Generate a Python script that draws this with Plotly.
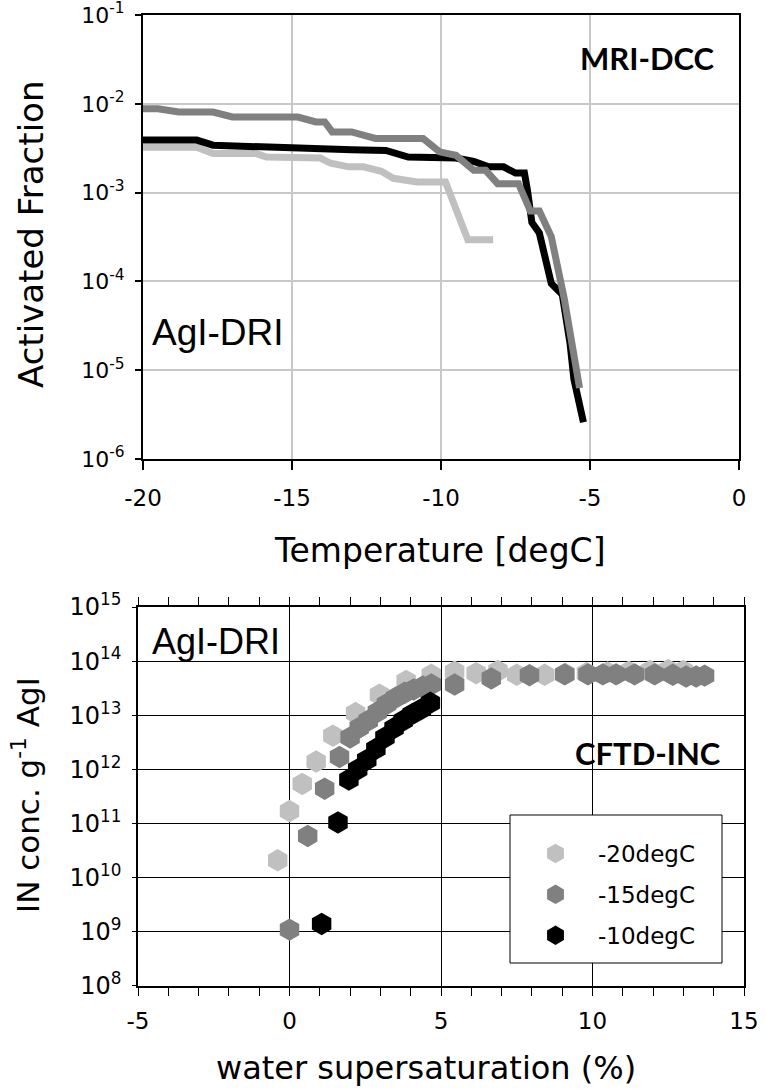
import plotly.graph_objects as go

W, H = 766, 1091

# ---------------- Top panel: MRI-DCC activated fraction ----------------
temp_light = [-20.0, -18.2, -17.65, -16.2, -15.85, -14.05, -13.7, -13.1, -12.6, -12.0,
              -11.6, -10.8, -9.85, -9.65, -9.4, -9.1, -8.25]
af_light = [3.24e-3, 3.24e-3, 2.75e-3, 2.75e-3, 2.51e-3, 2.45e-3, 2.14e-3, 1.95e-3, 1.95e-3, 1.74e-3,
            1.45e-3, 1.32e-3, 1.32e-3, 9.1e-4, 5.4e-4, 2.95e-4, 2.95e-4]

temp_black = [-20.0, -18.2, -17.65, -16.0, -14.9, -13.0, -11.85, -11.1, -9.5, -8.9, -8.4,
              -7.9, -7.5, -7.2, -7.1, -6.95, -6.7, -6.3, -5.93, -5.67, -5.54, -5.22]
af_black = [3.9e-3, 3.9e-3, 3.42e-3, 3.27e-3, 3.09e-3, 3.03e-3, 2.98e-3, 2.51e-3, 2.45e-3, 2.24e-3, 1.95e-3,
            1.95e-3, 1.66e-3, 1.66e-3, 1.07e-3, 4.6e-4, 3.5e-4, 9.5e-5, 7.1e-5, 2.0e-5, 7.9e-6, 2.6e-6]

temp_gray = [-20.0, -19.5, -18.8, -17.65, -17.0, -14.8, -14.2, -13.9, -13.65, -13.0, -12.2, -10.6,
             -10.05, -9.5, -8.9, -8.5, -8.1, -7.4, -7.0, -6.7, -6.3, -6.0, -5.86, -5.35]
af_gray = [8.8e-3, 8.8e-3, 8.07e-3, 8.07e-3, 7.1e-3, 7.1e-3, 6.24e-3, 6.24e-3, 4.82e-3, 4.82e-3, 4.07e-3, 4.07e-3,
           2.88e-3, 2.63e-3, 1.78e-3, 1.78e-3, 1.26e-3, 1.26e-3, 6.2e-4, 6.2e-4, 3.2e-4, 1.15e-4, 6.3e-5, 6.3e-6]

top_xticks = [-20, -15, -10, -5, 0]
top_xticktext = ["-20", "-15", "-10", "-5", "0"]
top_yticks = [1e-6, 1e-5, 1e-4, 1e-3, 1e-2, 1e-1]
top_yticktext = ["10<sup>-6</sup>", "10<sup>-5</sup>", "10<sup>-4</sup>", "10<sup>-3</sup>",
                 "10<sup>-2</sup>", "10<sup>-1</sup>"]

# ---------------- Bottom panel: CFTD-INC IN concentration ----------------
ss_m20 = [-0.39, 0.0, 0.42, 0.88, 1.43, 2.18, 2.97, 3.85, 4.68, 5.45, 6.16, 6.88, 7.5, 8.42,
          9.1, 9.8, 10.5, 11.2, 11.9, 12.5, 13.0]
in_m20 = [2.1e10, 1.7e11, 5.4e11, 1.4e12, 4.2e12, 1.1e13, 2.4e13, 4.3e13, 5.6e13, 6.4e13, 6.0e13, 6.6e13,
          5.6e13, 5.6e13, 5.8e13, 6.0e13, 6.2e13, 6.4e13, 6.6e13, 6.8e13, 6.6e13]

ss_m15 = [0.0, 0.6, 1.16, 1.65, 2.0, 2.3, 2.6, 2.9, 3.2, 3.5, 3.8, 4.1, 4.4, 4.68, 5.45, 6.66,
          7.92, 9.08, 9.85, 10.34, 10.78, 11.39, 12.05, 12.65, 13.09, 13.42, 13.7]
in_m15 = [1.1e9, 5.9e10, 4.4e11, 1.7e12, 3.9e12, 5.9e12, 8.0e12, 1.15e13, 1.6e13, 2.1e13, 2.6e13, 3.0e13,
          3.4e13, 3.7e13, 3.7e13, 4.8e13, 5.5e13, 5.7e13, 5.7e13, 5.7e13, 5.7e13, 5.7e13, 5.7e13,
          5.6e13, 5.2e13, 5.2e13, 5.4e13]

ss_m10 = [1.06, 1.6, 1.96, 2.25, 2.55, 2.85, 3.15, 3.45, 3.75, 4.05, 4.35, 4.65]
in_m10 = [1.4e9, 1.05e11, 6.5e11, 1.0e12, 1.5e12, 2.4e12, 3.9e12, 5.8e12, 8.0e12, 1.05e13, 1.3e13, 1.7e13]

bot_xticks = [-5, 0, 5, 10, 15]
bot_xticktext = ["-5", "0", "5", "10", "15"]
bot_yticks = [1e8, 1e9, 1e10, 1e11, 1e12, 1e13, 1e14, 1e15]
bot_yticktext = ["10<sup>%d</sup>" % e for e in range(8, 16)]

C_LIGHT, C_MID, C_DARK = "#c0c0c0", "#808080", "#000000"
FONT = "DejaVu Sans"

fig = go.Figure()

# top lines
for xs, ys, col in [(temp_light, af_light, C_LIGHT), (temp_black, af_black, C_DARK), (temp_gray, af_gray, C_MID)]:
    fig.add_trace(go.Scatter(x=xs, y=ys, mode="lines", line=dict(color=col, width=7),
                             showlegend=False, xaxis="x", yaxis="y", hoverinfo="skip"))

# bottom markers
for xs, ys, col, name in [(ss_m20, in_m20, C_LIGHT, "-20degC"), (ss_m15, in_m15, C_MID, "-15degC"),
                          (ss_m10, in_m10, C_DARK, "-10degC")]:
    fig.add_trace(go.Scatter(x=xs, y=ys, mode="markers", name=name, legendgroup=name,
                             marker=dict(symbol="hexagon", size=19, color=col, line=dict(width=3, color=col)),
                             xaxis="x2", yaxis="y2"))

def px_x(p):
    return p / W

def px_y(p):
    return 1 - p / H

fig.update_layout(
    template="none",
    width=W, height=H, margin=dict(l=0, r=0, t=0, b=0, autoexpand=False),
    paper_bgcolor="white", plot_bgcolor="white",
    font=dict(family=FONT, color="black", size=23),
    xaxis=dict(domain=[px_x(143), px_x(739)], anchor="y", range=[-20, 0],
               tickvals=top_xticks, ticktext=top_xticktext, automargin=False,
               ticks="outside", ticklen=9, tickwidth=1.5, tickcolor="black",
               showline=True, linecolor="black", linewidth=2, mirror=True,
               showgrid=True, gridcolor="#c8c8c8", gridwidth=1.5, zeroline=False,
               ticklabelstandoff=8, ticklabeloverflow="allow", tickfont=dict(size=23)),
    yaxis=dict(domain=[px_y(459), px_y(15)], anchor="x", type="log", range=[-6.0001, -0.9999],
               tickvals=top_yticks, ticktext=top_yticktext, automargin=False,
               ticks="outside", ticklen=6, tickwidth=1.5, tickcolor="black",
               showline=True, linecolor="black", linewidth=2, mirror=True,
               showgrid=True, gridcolor="#c8c8c8", gridwidth=1.5, zeroline=False,
               ticklabelstandoff=6, ticklabeloverflow="allow", tickfont=dict(size=22)),
    xaxis2=dict(domain=[px_x(138), px_x(744)], anchor="y2", range=[-5, 15],
                tickvals=bot_xticks, ticktext=bot_xticktext, automargin=False,
                ticks="outside", ticklen=8, tickwidth=1, tickcolor="black",
                minor=dict(dtick=1, ticks="outside", ticklen=8, tickwidth=1, tickcolor="black", showgrid=False),
                showline=True, linecolor="black", linewidth=1.5, mirror="ticks",
                showgrid=True, gridcolor="black", gridwidth=1, zeroline=False,
                ticklabelstandoff=6, ticklabeloverflow="allow", tickfont=dict(size=23)),
    yaxis2=dict(domain=[px_y(986), px_y(607)], anchor="x2", type="log", range=[7.9999, 15.0001],
                tickvals=bot_yticks, ticktext=bot_yticktext, automargin=False,
                ticks="outside", ticklen=4, tickwidth=1, tickcolor="black",
                showline=True, linecolor="black", linewidth=1.5, mirror=True,
                showgrid=True, gridcolor="black", gridwidth=1, zeroline=False,
                ticklabelstandoff=6, ticklabeloverflow="allow", tickfont=dict(size=24)),
    legend=dict(x=px_x(513), y=px_y(832), xanchor="left", yanchor="top",
                bgcolor="rgba(0,0,0,0)", borderwidth=0, itemwidth=75,
                font=dict(size=23, family=FONT), tracegroupgap=8, traceorder="grouped",
                itemsizing="trace"),
    shapes=[dict(type="rect", xref="paper", yref="paper", x0=px_x(510), x1=px_x(722),
                 y0=px_y(963), y1=px_y(815), fillcolor="white", line=dict(color="black", width=1),
                 layer="above")],
)

annots = [
    dict(text="Activated Fraction", x=px_x(31), y=px_y(235), textangle=-90, font=dict(size=34)),
    dict(text="Temperature [degC]", x=px_x(440), y=px_y(550), font=dict(size=33)),
    dict(text="IN conc. g<sup>-1</sup> AgI", x=px_x(26), y=px_y(795), textangle=-90, font=dict(size=31)),
    dict(text="water supersaturation (%)", x=px_x(426), y=px_y(1068), font=dict(size=32)),
    dict(text="<b>MRI-DCC</b>", x=px_x(647), y=px_y(58), font=dict(size=31, family="Lato")),
    dict(text="<b>CFTD-INC</b>", x=px_x(648), y=px_y(753), font=dict(size=31, family="Lato")),
    dict(text="AgI-DRI", x=px_x(218), y=px_y(333), font=dict(size=37, family="Liberation Sans")),
    dict(text="AgI-DRI", x=px_x(216), y=px_y(641), font=dict(size=36, family="Liberation Sans")),
]
for a in annots:
    a.update(xref="paper", yref="paper", showarrow=False, xanchor="center", yanchor="middle")
    a["font"].setdefault("family", FONT)
    a["font"]["color"] = "black"
fig.update_layout(annotations=annots)

fig.write_html("out.html")
